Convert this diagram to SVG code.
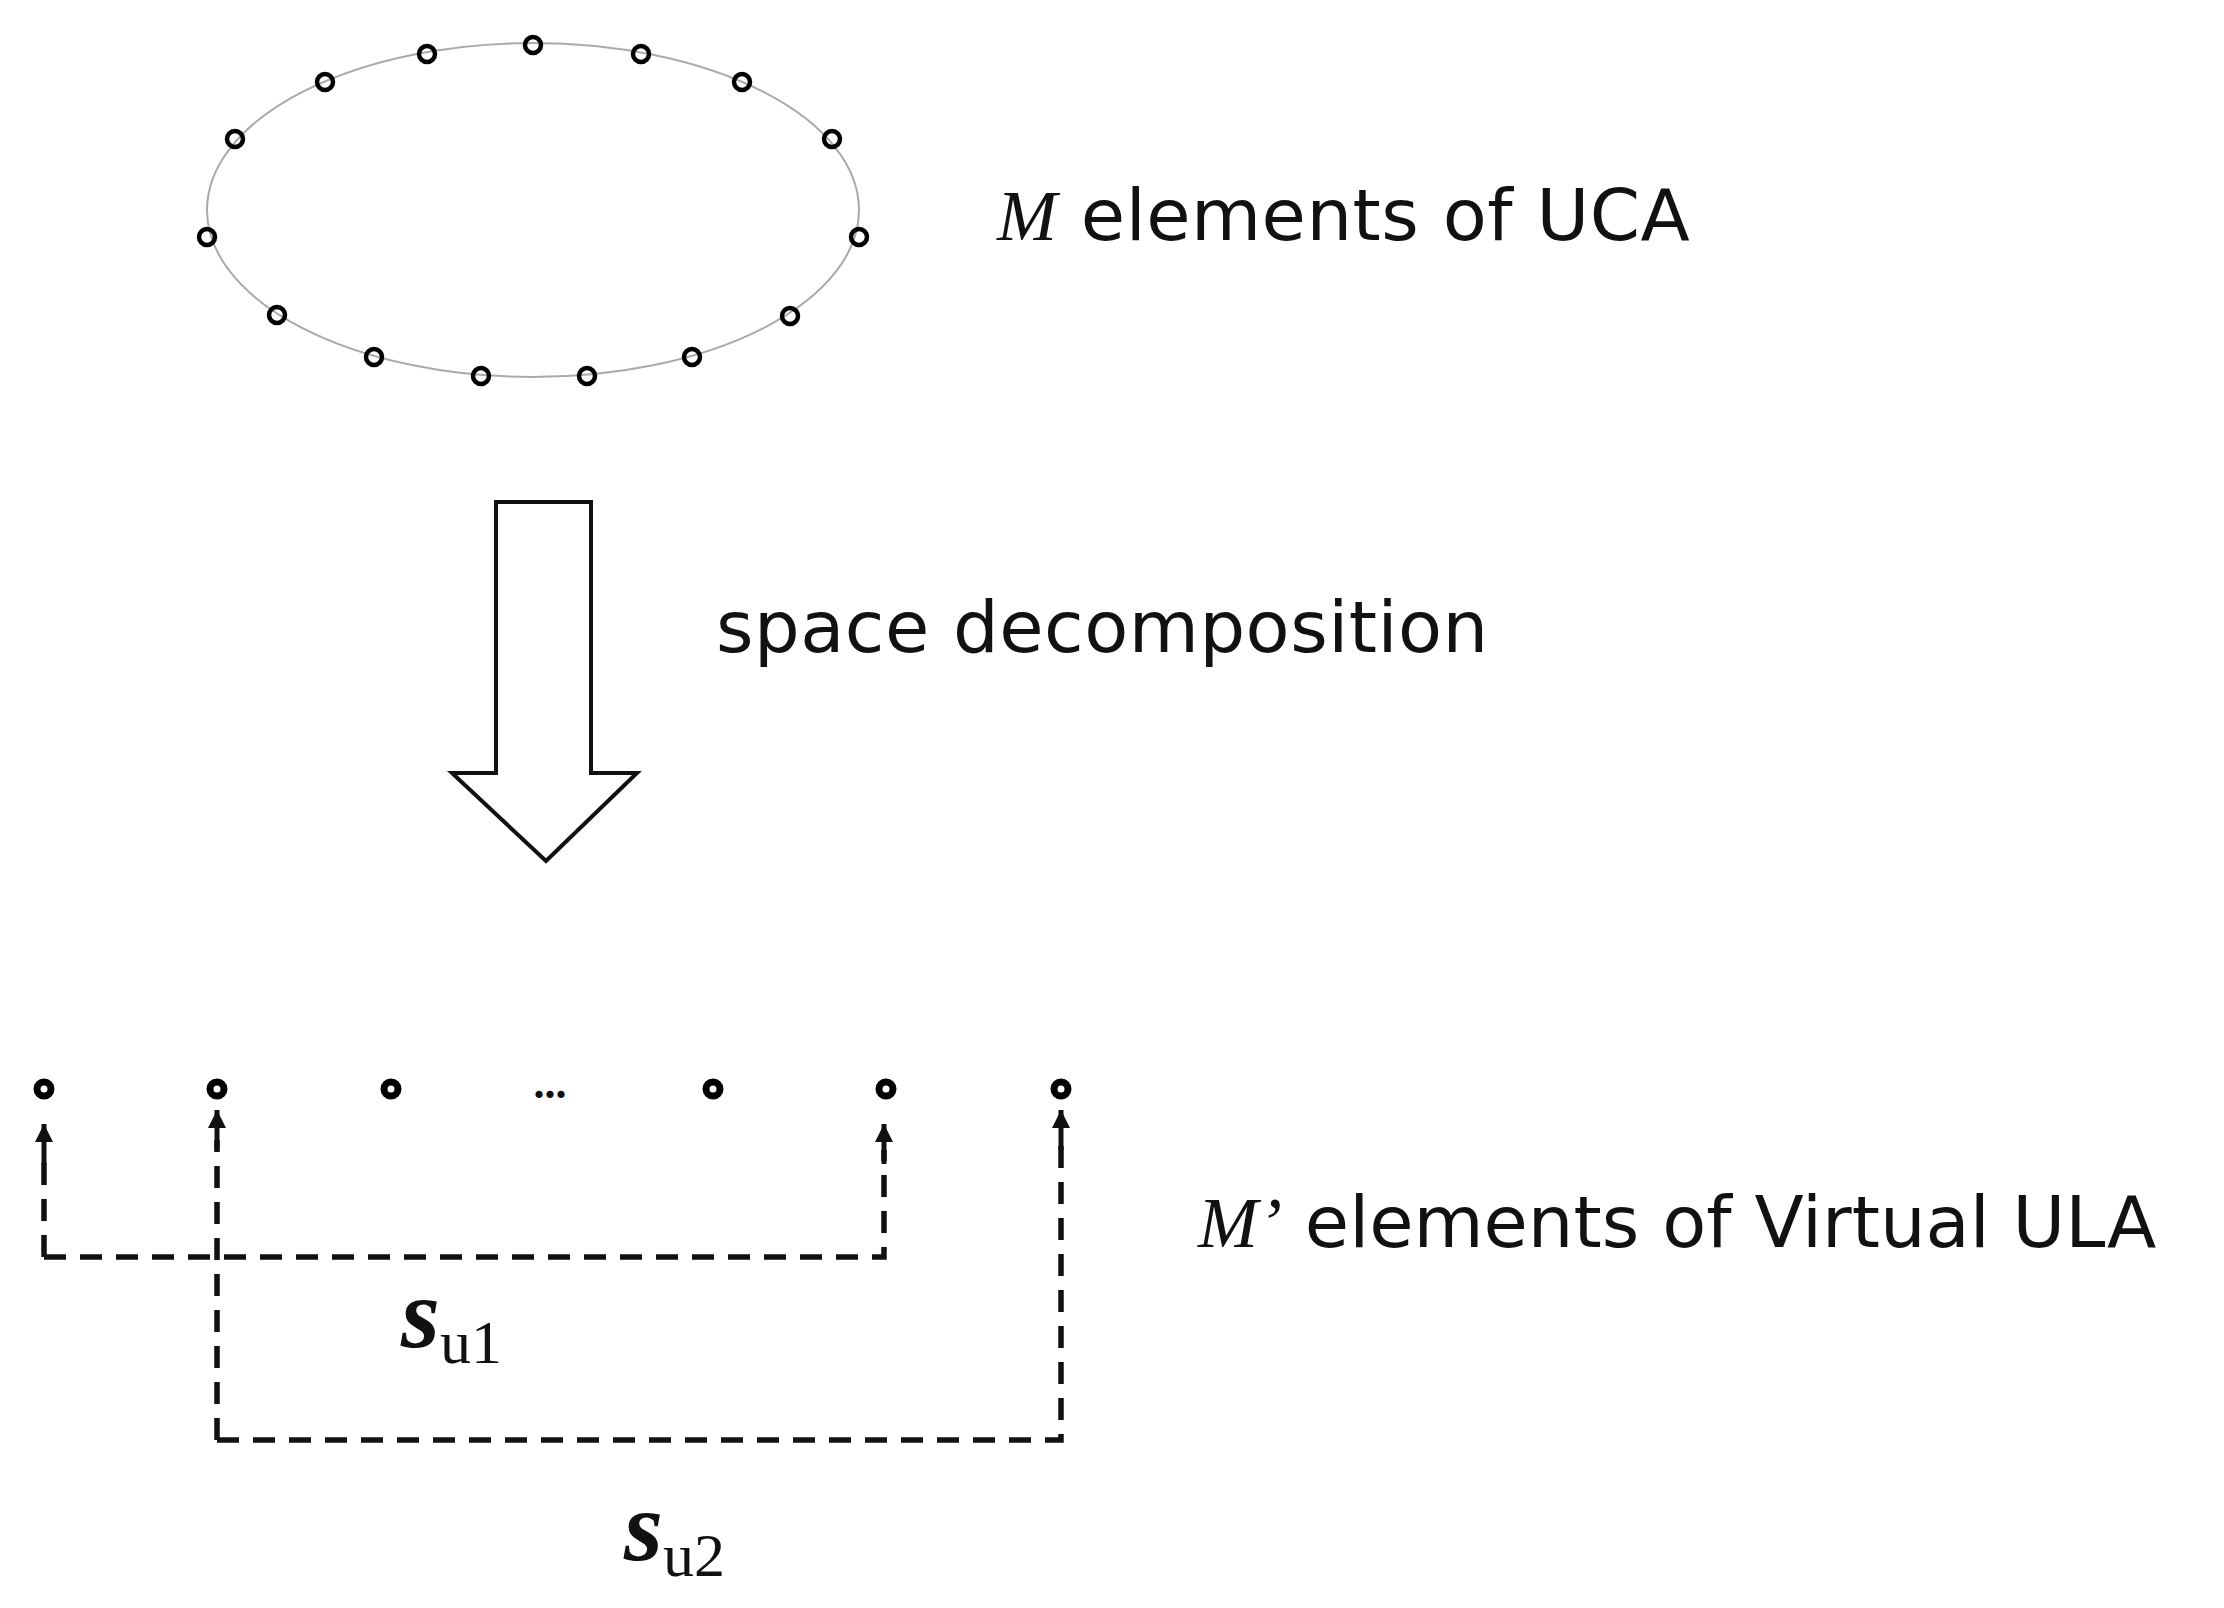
<svg xmlns="http://www.w3.org/2000/svg" width="2224" height="1608" viewBox="0 0 2224 1608">
<style>
.el{fill:none;stroke:#000;stroke-width:4.5}
.ul{fill:none;stroke:#000;stroke-width:7}
.lbl{font-family:"DejaVu Sans",sans-serif;font-size:72px;fill:#111;letter-spacing:0.5px}
.m{font-family:"Liberation Serif",serif;font-style:italic}
.d{fill:none;stroke:#111;stroke-width:5.5;stroke-dasharray:22 14}
.s{font-family:"Liberation Serif",serif;fill:#111}
</style>
<defs>
<marker id="a" viewBox="0 0 10 10" refX="10" refY="5" markerWidth="24" markerHeight="18" markerUnits="userSpaceOnUse" orient="auto"><path d="M0,0 L10,5 L0,10z" fill="#111"/></marker></defs>
<g id="uca">
<ellipse cx="533" cy="210" rx="326" ry="167" fill="none" stroke="#aaa" stroke-width="2"/>
<circle class="el" cx="533" cy="45" r="8"/><circle class="el" cx="641" cy="54" r="8"/><circle class="el" cx="742" cy="82" r="8"/><circle class="el" cx="832" cy="139" r="8"/><circle class="el" cx="859" cy="237" r="8"/><circle class="el" cx="790" cy="316" r="8"/><circle class="el" cx="692" cy="357" r="8"/><circle class="el" cx="587" cy="376" r="8"/><circle class="el" cx="481" cy="376" r="8"/><circle class="el" cx="374" cy="357" r="8"/><circle class="el" cx="277" cy="315" r="8"/><circle class="el" cx="207" cy="237" r="8"/><circle class="el" cx="235" cy="139" r="8"/><circle class="el" cx="325" cy="82" r="8"/><circle class="el" cx="427" cy="54" r="8"/>
</g>
<g id="uca-label"><text class="lbl" x="997" y="240" font-size="73"><tspan class="m">M</tspan> elements of UCA</text></g>
<g id="decomp-arrow"><path d="M496,502 H591 V773 H637 L546,861 L452,773 H496 Z" fill="#fff" stroke="#111" stroke-width="4"/></g>
<g id="decomp-label"><text class="lbl" x="716" y="652">space decomposition</text></g>
<g id="ula">
<circle class="ul" cx="44" cy="1089" r="7"/><circle class="ul" cx="217" cy="1089" r="7"/><circle class="ul" cx="391" cy="1089" r="7"/><circle class="ul" cx="713" cy="1089" r="7"/><circle class="ul" cx="886" cy="1089" r="7"/><circle class="ul" cx="1061" cy="1089" r="7"/>
<text class="s" x="550" y="1098" font-size="44" font-weight="bold" text-anchor="middle">...</text>
</g>
<g id="ula-label"><text class="lbl" x="1198" y="1247" style="letter-spacing:0"><tspan class="m">M’</tspan> elements of Virtual ULA</text></g>
<g id="connectors">
<path class="d" d="M44,1257 V1150 M44,1257 H884 V1150"/>
<path d="M884,1164 V1124" stroke="#111" stroke-width="5" marker-end="url(#a)"/>
<path d="M44,1164 V1124" stroke="#111" stroke-width="5" marker-end="url(#a)"/>
<path class="d" d="M217,1440 V1140 M217,1440 H1061 V1140"/>
<path d="M217,1150 V1110" stroke="#111" stroke-width="5" marker-end="url(#a)"/>
<path d="M1061,1150 V1110" stroke="#111" stroke-width="5" marker-end="url(#a)"/>
</g>
<g id="su1"><text class="s" x="401" y="1347"><tspan font-size="100" font-style="italic" font-weight="bold">s</tspan><tspan font-size="62" dy="16">u1</tspan></text></g>
<g id="su2"><text class="s" x="624" y="1560"><tspan font-size="100" font-style="italic" font-weight="bold">s</tspan><tspan font-size="62" dy="16">u2</tspan></text></g>
</svg>
